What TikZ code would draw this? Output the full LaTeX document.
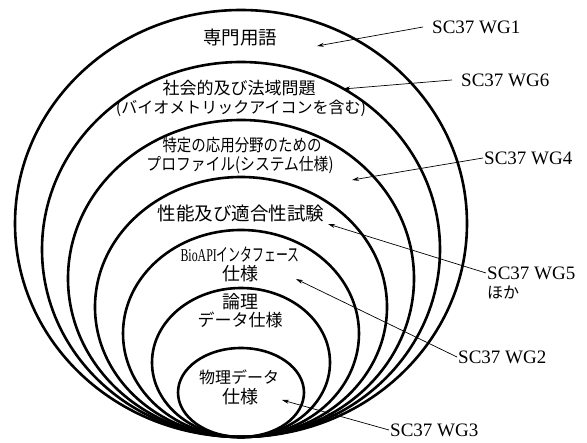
\documentclass[tikz,border=0pt]{standalone}
\usepackage{fontspec}
\setmainfont{Liberation Serif}
\newfontfamily\jp{Noto Sans CJK JP}
\usetikzlibrary{arrows.meta}
\begin{document}
\begin{tikzpicture}[x=1pt,y=-1pt,
  ring/.style={line width=2.6pt},
  lead/.style={line width=0.7pt,-{Stealth[length=7pt,width=4pt]}},
  wg/.style={anchor=west,inner sep=1pt,font=\fontsize{19}{20}\selectfont},
  jt/.style={inner sep=0pt,font=\jp\fontsize{17}{17}\selectfont}]
\useasboundingbox[fill=white] (0,0) rectangle (587,443);
\foreach \rx/\ry in {226/213.5, 199/187.5, 173/158.5, 146/130, 118/103.5, 89/74.5, 63/44.5}
  \draw[ring] (241,437-\ry) ellipse [x radius=\rx pt, y radius=\ry pt];
% texts inside the rings
\node[jt,font=\jp\fontsize{18.5}{18.5}\selectfont] (t1) at (240,38) {専門用語};
\node[jt] (t2) at (239,88) {社会的及び法域問題};
\node[jt,font=\jp\fontsize{16}{16}\selectfont] (t3) at (241,108) {(バイオメトリックアイコンを含む)};
\node[jt] (t4) at (242,145) {\scalebox{0.85}[1]{特定の応用分野のための}};
\node[jt] (t5) at (240,165) {\scalebox{0.87}[1]{プロファイル(システム仕様)}};
\node[jt,font=\jp\fontsize{18.5}{18.5}\selectfont] (t6) at (241,213) {性能及び適合性試験};
\node[jt] (t7) at (240,255) {\scalebox{0.66}[1]{\rmfamily\fontsize{18}{18}\selectfont BioAPI\jp インタフェース}};
\node[jt,font=\jp\fontsize{18}{18}\selectfont] (t8) at (240,274) {仕様};
\node[jt,font=\jp\fontsize{18}{18}\selectfont] (t9) at (240,302) {論理};
\node[jt] (t10) at (240,320) {データ仕様};
\node[jt,font=\jp\fontsize{16}{16}\selectfont] (t11) at (239,377) {物理データ};
\node[jt,font=\jp\fontsize{18}{18}\selectfont] (t12) at (240,397) {仕様};
% working group labels
\node[wg] (wg1) at (431,27) {SC37 WG1};
\node[wg] (wg6) at (460,80) {SC37 WG6};
\node[wg] (wg4) at (483,158) {SC37 WG4};
\node[wg] (wg5) at (486,273) {SC37 WG5};
\node[wg,font=\jp\fontsize{16}{16}\selectfont] (wg5b) at (486,292) {ほか};
\node[wg] (wg2) at (457,357) {SC37 WG2};
\node[wg] (wg3) at (389,430) {SC37 WG3};
% arrow tips
\coordinate (a1) at (317,46);
\coordinate (a6) at (343,89);
\coordinate (a4) at (352,180);
\coordinate (a5) at (328,224);
\coordinate (a2) at (296,279);
\coordinate (a3) at (282,400);
\draw[lead] ([xshift=-8pt]wg1.west) -- (a1);
\draw[lead] ([xshift=-8pt]wg6.west) -- (a6);
\draw[lead] (wg4.west) -- (a4);
\draw[lead] (wg5.west) -- (a5);
\draw[lead] (wg2.west) -- (a2);
\draw[lead] (wg3.west) -- (a3);
\end{tikzpicture}
\end{document}
